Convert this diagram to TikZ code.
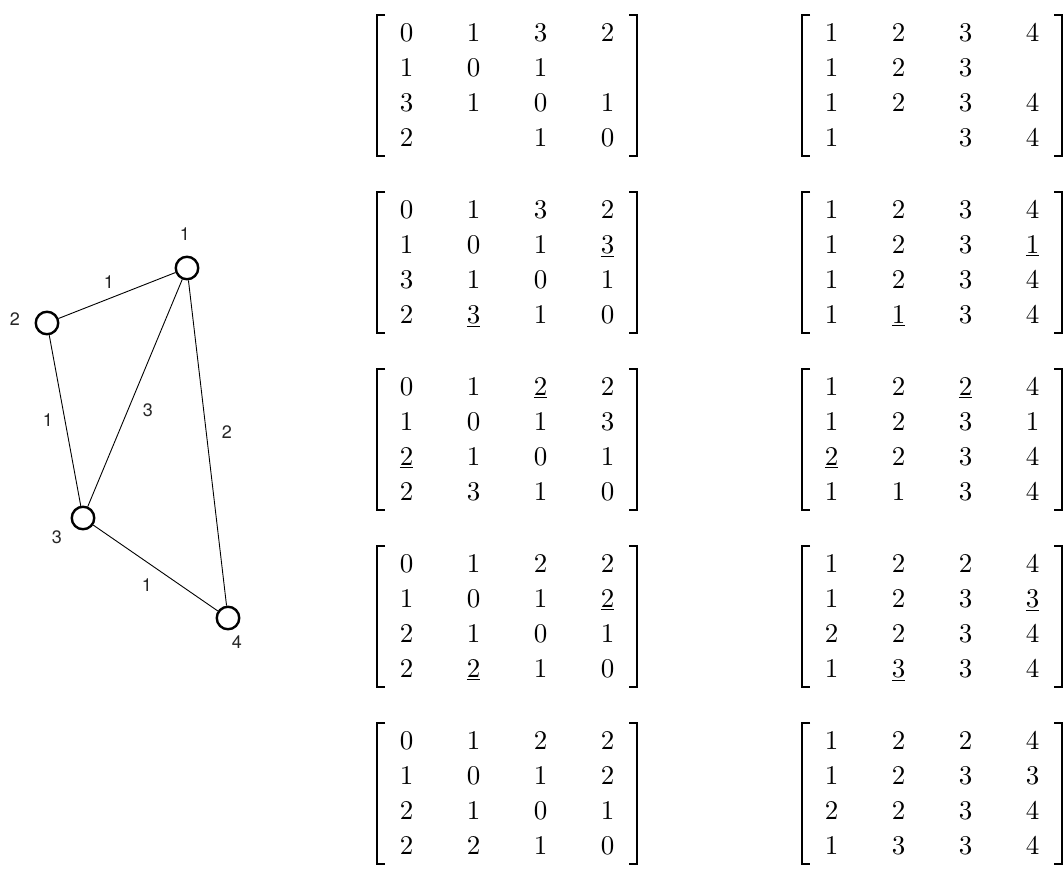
\documentclass[tikz,border=0pt]{standalone}
\usepackage{fontspec}
\newfontfamily\gfont{TeX Gyre Heros}
\newfontfamily\mfont{lmroman10-regular.otf}
\usetikzlibrary{calc,matrix}
\newcommand\brk[1]{%
  \draw[brk] ($(#1.center)+(-122,-70.5)$) -- ++(-8,0) -- ++(0,141) -- ++(8,0);
  \draw[brk] ($(#1.center)+(122,-70.5)$) -- ++(8,0) -- ++(0,141) -- ++(-8,0);}
\newcommand\ul[1]{\underline{#1}}
\begin{document}
\begin{tikzpicture}[x=1pt,y=-1pt,
  vert/.style={circle, draw, line width=2.4pt, minimum size=22.5pt, inner sep=0pt},
  edge/.style={line width=0.9pt},
  glabel/.style={font=\gfont\fontsize{18}{18}\selectfont, text=black!85, inner sep=0pt},
  brk/.style={line width=1.6pt},
  mat/.style={matrix of nodes, inner sep=0pt, column sep=0pt, row sep=0pt,
    nodes={minimum width=67pt, minimum height=35pt, inner sep=0pt,
      text height=17.8pt, text depth=0pt, anchor=center,
      font=\mfont\fontsize{27}{32}\selectfont}}]
\useasboundingbox (0,0) rectangle (1064,868);

% graph
\node[vert] (v1) at (187,268) {};
\node[vert] (v2) at (47,323) {};
\node[vert] (v3) at (83,518) {};
\node[vert] (v4) at (228,618) {};
\draw[edge] (v1) -- (v2);
\draw[edge] (v2) -- (v3);
\draw[edge] (v1) -- (v3);
\draw[edge] (v1) -- (v4);
\draw[edge] (v3) -- (v4);
\node[glabel] (n1) at (185,234) {1};
\node[glabel] (n2) at (15,319) {2};
\node[glabel] (n3) at (57,537) {3};
\node[glabel] (n4) at (237,642) {4};
\node[glabel] (e12) at (109,282) {1};
\node[glabel] (e23) at (48,420) {1};
\node[glabel] (e13) at (148,410) {3};
\node[glabel] (e14) at (227,432) {2};
\node[glabel] (e34) at (147,585) {1};

% block 1
\matrix (L1) [mat] at (507,85.5) {
0 & 1 & 3 & 2 \\
1 & 0 & 1 & \\
3 & 1 & 0 & 1 \\
2 & & 1 & 0 \\
};
\matrix (R1) [mat] at (932,85.5) {
1 & 2 & 3 & 4 \\
1 & 2 & 3 & \\
1 & 2 & 3 & 4 \\
1 & & 3 & 4 \\
};
% block 2
\matrix (L2) [mat] at (507,262.5) {
0 & 1 & 3 & 2 \\
1 & 0 & 1 & \ul{3} \\
3 & 1 & 0 & 1 \\
2 & \ul{3} & 1 & 0 \\
};
\matrix (R2) [mat] at (932,262.5) {
1 & 2 & 3 & 4 \\
1 & 2 & 3 & \ul{1} \\
1 & 2 & 3 & 4 \\
1 & \ul{1} & 3 & 4 \\
};
% block 3
\matrix (L3) [mat] at (507,439.5) {
0 & 1 & \ul{2} & 2 \\
1 & 0 & 1 & 3 \\
\ul{2} & 1 & 0 & 1 \\
2 & 3 & 1 & 0 \\
};
\matrix (R3) [mat] at (932,439.5) {
1 & 2 & \ul{2} & 4 \\
1 & 2 & 3 & 1 \\
\ul{2} & 2 & 3 & 4 \\
1 & 1 & 3 & 4 \\
};
% block 4
\matrix (L4) [mat] at (507,616.5) {
0 & 1 & 2 & 2 \\
1 & 0 & 1 & \ul{2} \\
2 & 1 & 0 & 1 \\
2 & \ul{2} & 1 & 0 \\
};
\matrix (R4) [mat] at (932,616.5) {
1 & 2 & 2 & 4 \\
1 & 2 & 3 & \ul{3} \\
2 & 2 & 3 & 4 \\
1 & \ul{3} & 3 & 4 \\
};
% block 5
\matrix (L5) [mat] at (507,793.5) {
0 & 1 & 2 & 2 \\
1 & 0 & 1 & 2 \\
2 & 1 & 0 & 1 \\
2 & 2 & 1 & 0 \\
};
\matrix (R5) [mat] at (932,793.5) {
1 & 2 & 2 & 4 \\
1 & 2 & 3 & 3 \\
2 & 2 & 3 & 4 \\
1 & 3 & 3 & 4 \\
};
\brk{L1}\brk{R1}\brk{L2}\brk{R2}\brk{L3}\brk{R3}\brk{L4}\brk{R4}\brk{L5}\brk{R5}
\end{tikzpicture}
\end{document}
